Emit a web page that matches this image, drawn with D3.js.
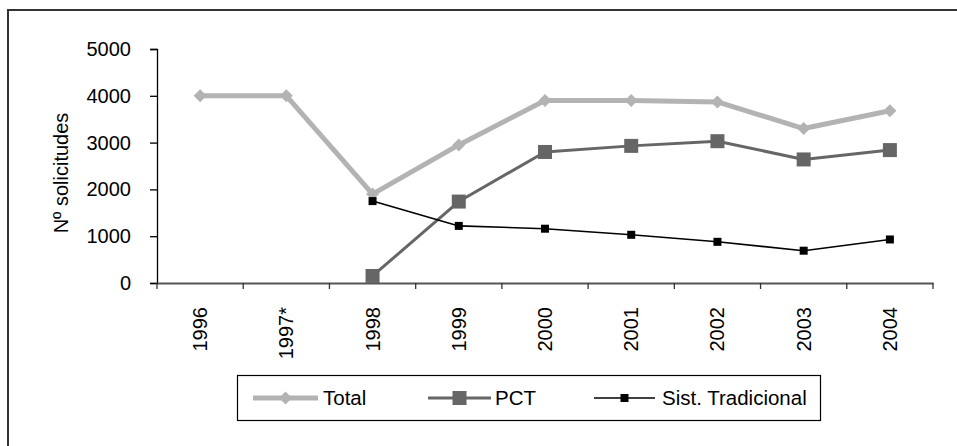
<!DOCTYPE html>
<html>
<head>
<meta charset="utf-8">
<script src="https://cdn.jsdelivr.net/npm/d3@7"></script>
<style>
  html, body { margin: 0; padding: 0; background: #fff; }
  svg { display: block; font-family: "Liberation Sans", Arial, sans-serif; }
</style>
</head>
<body>
<svg id="chart" width="957" height="446"></svg>
<script>
// Solicitudes por año y vía de presentación
const years = ["1996", "1997*", "1998", "1999", "2000", "2001", "2002", "2003", "2004"];
const totalValues = [4000, 4000, 1900, 2950, 3900, 3900, 3870, 3300, 3680];
const pctValues = [null, null, 150, 1740, 2800, 2930, 3030, 2640, 2840];
const tradValues = [null, null, 1750, 1220, 1160, 1030, 880, 690, 930];
const yTicks = [0, 1000, 2000, 3000, 4000, 5000];
const seriesNames = ["Total", "PCT", "Sist. Tradicional"];

const svg = d3.select("#chart");

// chart frame
svg.append("path")
  .attr("d", "M8,446V10H957")
  .attr("fill", "none")
  .attr("stroke", "#333")
  .attr("stroke-width", 2);

const plot = { left: 157, right: 933, top: 49, bottom: 283 };

const x = d3.scaleBand().domain(years).range([plot.left, plot.right]);
const y = d3.scaleLinear().domain([0, 5000]).range([plot.bottom, plot.top]);

// y axis
const yAxis = svg.append("g")
  .attr("transform", `translate(${plot.left},0)`)
  .call(d3.axisLeft(y).tickValues(yTicks).tickFormat(d3.format("d")).tickSize(7).tickPadding(19));
yAxis.select(".domain").attr("stroke", "#000").attr("stroke-width", 1.3);
yAxis.selectAll(".tick line").attr("stroke", "#000").attr("stroke-width", 1.3);
yAxis.selectAll(".tick text").attr("font-size", 20).attr("fill", "#000")
  .attr("font-family", "Liberation Sans, Arial, sans-serif");

// x axis: labels at category centres, ticks at category boundaries
const xAxis = svg.append("g")
  .attr("transform", `translate(0,${plot.bottom})`)
  .call(d3.axisBottom(x).tickSize(0).tickPadding(0));
xAxis.select(".domain").attr("stroke", "#555").attr("stroke-width", 2);
xAxis.selectAll(".tick text")
  .attr("font-size", 20).attr("fill", "#000")
  .attr("font-family", "Liberation Sans, Arial, sans-serif")
  .attr("text-anchor", "end")
  .attr("transform", "rotate(-90)")
  .attr("x", -24).attr("y", 0).attr("dy", "0.35em");

const boundaries = years.map(d => x(d)).concat([x(years[years.length - 1]) + x.bandwidth()]);
xAxis.selectAll(".bound")
  .data(boundaries)
  .join("line")
  .attr("class", "bound")
  .attr("x1", d => d).attr("x2", d => d)
  .attr("y1", 0).attr("y2", 6)
  .attr("stroke", "#333").attr("stroke-width", 1.3);

// y axis title
svg.append("text")
  .attr("transform", "translate(68,173) rotate(-90)")
  .attr("text-anchor", "middle")
  .attr("font-size", 20)
  .attr("fill", "#000")
  .text("Nº solicitudes");

const cx = i => x(years[i]) + x.bandwidth() / 2;

const series = [
  { name: seriesNames[0], values: totalValues, color: "#b3b3b3", width: 5, marker: "diamond", size: 13 },
  { name: seriesNames[1], values: pctValues, color: "#666666", width: 3, marker: "square", size: 14 },
  { name: seriesNames[2], values: tradValues, color: "#000000", width: 1.6, marker: "square", size: 8 }
];

function drawMarker(g, s, px, py) {
  if (s.marker === "diamond") {
    const h = s.size / 2;
    g.append("path")
      .attr("d", `M${px},${py - h}L${px + h},${py}L${px},${py + h}L${px - h},${py}Z`)
      .attr("fill", s.color);
  } else {
    g.append("rect")
      .attr("x", px - s.size / 2).attr("y", py - s.size / 2)
      .attr("width", s.size).attr("height", s.size)
      .attr("fill", s.color);
  }
}

const line = d3.line()
  .defined(d => d.v !== null)
  .x(d => cx(d.i))
  .y(d => y(d.v));

series.forEach(s => {
  const pts = s.values.map((v, i) => ({ v, i }));
  const g = svg.append("g");
  g.append("path")
    .datum(pts)
    .attr("d", line)
    .attr("fill", "none")
    .attr("stroke", s.color)
    .attr("stroke-width", s.width)
    .attr("stroke-linejoin", "round");
  pts.filter(d => d.v !== null).forEach(d => drawMarker(g, s, cx(d.i), y(d.v)));
});

// legend
const legend = svg.append("g");
legend.append("rect")
  .attr("x", 237.5).attr("y", 375.5)
  .attr("width", 583).attr("height", 45)
  .attr("fill", "#fff").attr("stroke", "#000").attr("stroke-width", 1.2);

const legendItems = [
  { x1: 253, x2: 318, tx: 323 },
  { x1: 428, x2: 491, tx: 495 },
  { x1: 594, x2: 655, tx: 662 }
];
const ly = 398;
series.forEach((s, i) => {
  const it = legendItems[i];
  legend.append("line")
    .attr("x1", it.x1).attr("x2", it.x2)
    .attr("y1", ly).attr("y2", ly)
    .attr("stroke", s.color).attr("stroke-width", s.width);
  drawMarker(legend, s, (it.x1 + it.x2) / 2, ly);
  legend.append("text")
    .attr("x", it.tx).attr("y", ly)
    .attr("dy", "0.35em")
    .attr("font-size", 20.5)
    .attr("fill", "#000")
    .text(s.name);
});
</script>
</body>
</html>
